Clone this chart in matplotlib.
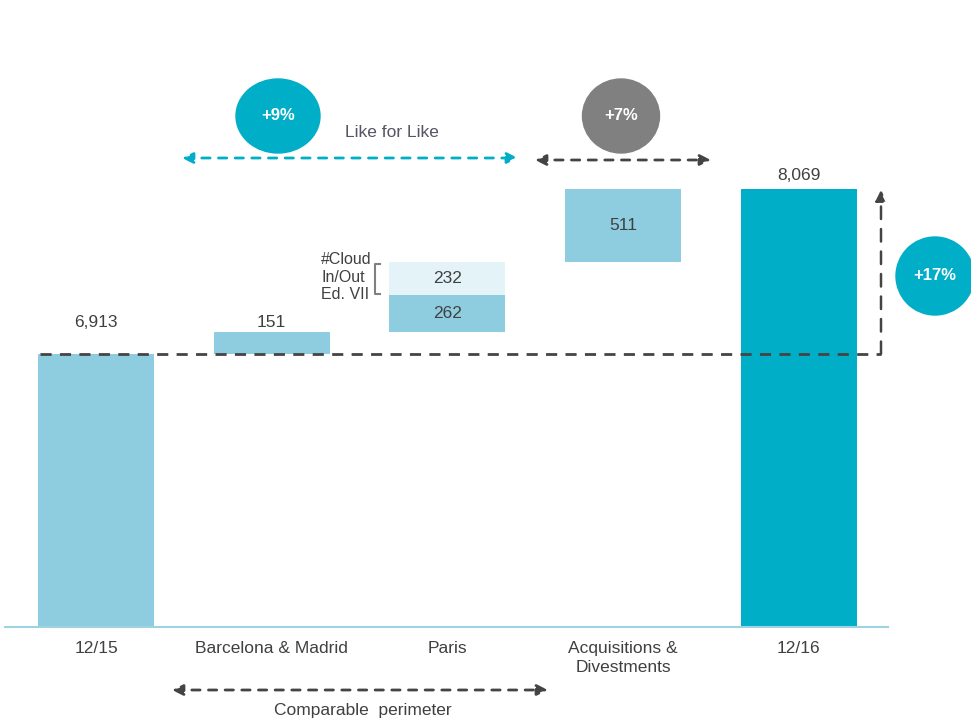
import matplotlib.pyplot as plt
from matplotlib.patches import Ellipse

# waterfall data
categories = ["12/15", "Barcelona & Madrid", "Paris", "Acquisitions &\nDivestments", "12/16"]
start_value = 6913
end_value = 8069
bcn_mad = 151
paris_base = 262
paris_cloud = 232
acq_div = 511
growth_lfl = "+9%"
growth_acq = "+7%"
growth_total = "+17%"

light = "#8ecde0"
pale = "#e4f3f8"
teal = "#00aec7"
grey = "#808080"
dark = "#444444"
txt = "#404040"

plt.rcParams['font.family'] = ['Liberation Sans Narrow', 'Liberation Sans', 'DejaVu Sans']

fig = plt.figure(figsize=(9.71, 7.21), dpi=100)
ax = fig.add_axes([0, 0, 1, 1])

# pixel <-> data helpers (axis origin at 5,000)
X0, DX = 96.0, 175.7
Y0, KY, VMIN = 627.0, 0.1427, 5000.0
def px(x):
    return (x - X0) / DX
def py(y):
    return VMIN + (Y0 - y) / KY

ax.set_xlim(px(0), px(971))
ax.set_ylim(py(721), py(0))
ax.axis('off')

w = 116 / DX
xs = list(range(len(categories)))

# bars
ax.bar(xs[0], start_value - VMIN, bottom=VMIN, width=w, color=light)
ax.bar(xs[1], bcn_mad, bottom=start_value, width=w, color=light)
b_paris = start_value + bcn_mad
ax.bar(xs[2], paris_base, bottom=b_paris, width=w, color=light)
ax.bar(xs[2], paris_cloud, bottom=b_paris + paris_base, width=w, color=pale)
b_acq = b_paris + paris_base + paris_cloud
ax.bar(xs[3], acq_div, bottom=b_acq, width=w, color=light)
ax.bar(xs[4], end_value - VMIN, bottom=VMIN, width=w, color=teal)

# value labels
fs = 12.5
ax.text(xs[0], start_value + 170, f"{start_value:,}", ha='center', va='bottom', fontsize=fs, color=txt)
ax.text(xs[1], start_value + bcn_mad + 20, f"{bcn_mad}", ha='center', va='bottom', fontsize=fs, color=txt)
ax.text(xs[2], b_paris + paris_base / 2, f"{paris_base}", ha='center', va='center', fontsize=fs, color=txt)
ax.text(xs[2], b_paris + paris_base + paris_cloud / 2, f"{paris_cloud}", ha='center', va='center', fontsize=fs, color=txt)
ax.text(xs[3], b_acq + acq_div / 2, f"{acq_div}", ha='center', va='center', fontsize=fs, color=txt)
ax.text(xs[4], end_value + 40, f"{end_value:,}", ha='center', va='bottom', fontsize=fs, color=txt)

# category labels
for x, c in zip(xs, categories):
    ax.text(x, py(641), c, ha='center', va='top', fontsize=fs, color=txt, linespacing=1.35)

# axis line
ax.plot([px(5), px(888)], [VMIN, VMIN], color="#9fd3e3", lw=1.5)

# reference line at start value and total arrow
ax.plot([px(40), px(881)], [start_value, start_value], ls=(0, (4, 3)), color=dark, lw=2)
ax.annotate("", xy=(px(881), py(190)), xytext=(px(881), start_value),
            arrowprops=dict(arrowstyle='-|>', color=dark, lw=1.8, ls=(0, (5, 4)),
                            mutation_scale=16, shrinkA=0, shrinkB=0))

def dbl_arrow(x1, x2, y, col):
    ax.annotate("", xy=(px(x2), py(y)), xytext=(px(x1), py(y)),
                arrowprops=dict(arrowstyle='<|-|>', color=col, lw=2, ls=(0, (3, 3)),
                                mutation_scale=16, shrinkA=0, shrinkB=0))

dbl_arrow(182, 518, 158, teal)
dbl_arrow(535, 711, 160, dark)
dbl_arrow(172, 548, 690, dark)

ax.text(px(392), py(132), "Like for Like", ha='center', va='center', fontsize=fs, color="#555566")
ax.text(px(363), py(710), "Comparable  perimeter", ha='center', va='center', fontsize=fs, color=txt)

# growth bubbles
def bubble(cx, cy, wpx, hpx, col, label):
    e = Ellipse((px(cx), py(cy)), wpx / DX, hpx / KY, color=col, zorder=3)
    ax.add_patch(e)
    ax.text(px(cx), py(cy), label, ha='center', va='center', fontsize=12,
            color='white', fontweight='bold', zorder=4)

bubble(278, 116, 84, 74, teal, growth_lfl)
bubble(621, 116, 77, 74, grey, growth_acq)
bubble(935, 276, 78, 78, teal, growth_total)

# note for the Paris cloud event
ax.text(px(321), py(277), "#Cloud\nIn/Out\nEd. VII", ha='left', va='center', fontsize=11.5,
        color=txt, linespacing=1.2)
ax.plot([px(380), px(375), px(375), px(380)], [py(264), py(264), py(294), py(294)],
        color=grey, lw=1.5)

fig.savefig("out.png", dpi=100)
